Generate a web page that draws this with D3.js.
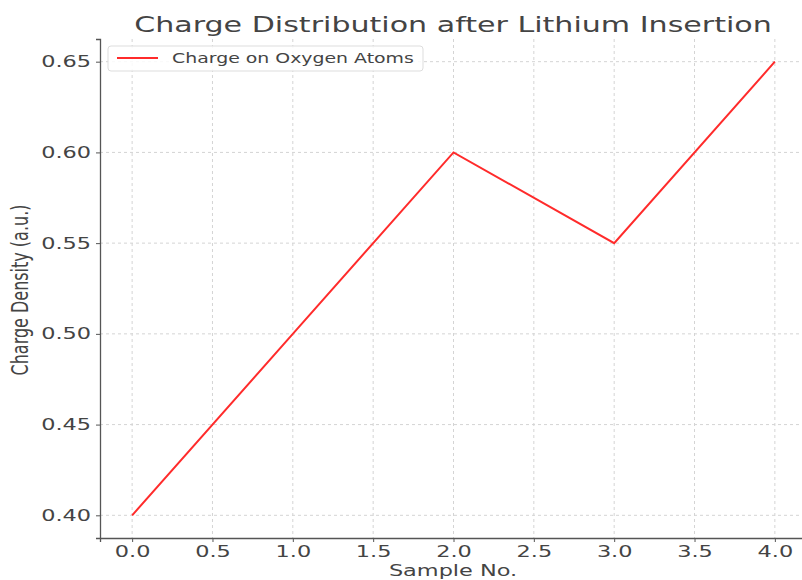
<!DOCTYPE html>
<html>
<head>
<meta charset="utf-8">
<script src="https://cdn.jsdelivr.net/npm/d3@7"></script>
<style>
  body { margin: 0; background: #fff; }
  text { font-family: "DejaVu Sans", sans-serif; fill: #444; }
</style>
</head>
<body>
<svg id="chart" width="802" height="580"></svg>
<script>
// data
var sampleNo = [0, 1, 2, 3, 4];
var chargeOnOxygen = [0.40, 0.50, 0.60, 0.55, 0.65];
var xTicks = [0, 0.5, 1, 1.5, 2, 2.5, 3, 3.5, 4];
var yTicks = [0.40, 0.45, 0.50, 0.55, 0.60, 0.65];
var seriesName = 'Charge on Oxygen Atoms';

var sx = 1.4;   // the picture is stretched sideways

var svg = d3.select('#chart');

var x = d3.scaleLinear().domain([-0.2, 4.2]).range([100, 807]);
var y = d3.scaleLinear().domain([0.3875, 0.6625]).range([538, 39]);

// grid
var grid = svg.append('g');
grid.selectAll('.gx').data(xTicks).enter().append('line')
    .attr('x1', function (d) { return x(d); })
    .attr('x2', function (d) { return x(d); })
    .attr('y1', y.range()[1]).attr('y2', y.range()[0])
    .attr('stroke', '#d4d4d4').attr('stroke-width', 1)
    .attr('stroke-dasharray', '3,3');
grid.selectAll('.gy').data(yTicks).enter().append('line')
    .attr('x1', x.range()[0]).attr('x2', x.range()[1])
    .attr('y1', function (d) { return y(d); })
    .attr('y2', function (d) { return y(d); })
    .attr('stroke', '#d4d4d4').attr('stroke-width', 1)
    .attr('stroke-dasharray', '3,3');

// axes
var xAxis = svg.append('g')
    .attr('transform', 'translate(0,' + y.range()[0] + ')')
    .call(d3.axisBottom(x).tickValues(xTicks).tickSize(4).tickPadding(4)
        .tickFormat(d3.format('.1f')));
var yAxis = svg.append('g')
    .attr('transform', 'translate(' + x.range()[0] + ',0)')
    .call(d3.axisLeft(y).tickValues(yTicks).tickSize(4).tickPadding(5)
        .tickFormat(d3.format('.2f')));

[xAxis, yAxis].forEach(function (ax) {
    ax.select('.domain').attr('stroke', '#555').attr('stroke-width', 1.3);
    ax.selectAll('.tick line').attr('stroke', '#555').attr('stroke-width', 1);
    ax.selectAll('.tick text').attr('font-size', 16).attr('fill', '#444')
        .style('font-family', '"DejaVu Sans", sans-serif');
});
// stretch tick labels sideways around their anchor
xAxis.selectAll('.tick text').attr('transform', 'scale(' + sx + ',1)');
yAxis.selectAll('.tick text').each(function () {
    var t = d3.select(this);
    var tx = +t.attr('x');
    t.attr('x', tx / sx).attr('transform', 'scale(' + sx + ',1)');
});

// line
var line = d3.line()
    .x(function (d, i) { return x(sampleNo[i]); })
    .y(function (d) { return y(d); });
svg.append('path')
    .datum(chargeOnOxygen)
    .attr('d', line)
    .attr('fill', 'none')
    .attr('stroke', '#ff2b2b')
    .attr('stroke-width', 2);

// title and labels
svg.append('text')
    .attr('transform', 'translate(453,32) scale(' + sx + ',1)')
    .attr('text-anchor', 'middle')
    .attr('font-size', 21.5)
    .attr('fill', '#444')
    .text('Charge Distribution after Lithium Insertion');

svg.append('text')
    .attr('transform', 'translate(453,576) scale(' + sx + ',1)')
    .attr('text-anchor', 'middle')
    .attr('font-size', 16)
    .text('Sample No.');

svg.append('text')
    .attr('transform', 'translate(28,290) scale(' + sx + ',1) rotate(-90)')
    .attr('text-anchor', 'middle')
    .attr('font-size', 16)
    .text('Charge Density (a.u.)');

// legend
var legend = svg.append('g');
legend.append('rect')
    .attr('x', 108).attr('y', 46).attr('width', 315).attr('height', 25)
    .attr('rx', 3)
    .attr('fill', '#fff').attr('fill-opacity', 0.85)
    .attr('stroke', '#ddd').attr('stroke-width', 1);
legend.append('line')
    .attr('x1', 117).attr('x2', 158).attr('y1', 58).attr('y2', 58)
    .attr('stroke', '#ff2b2b').attr('stroke-width', 2);
legend.append('text')
    .attr('transform', 'translate(172,63) scale(' + sx + ',1)')
    .attr('font-size', 13.5)
    .text(seriesName);
</script>
</body>
</html>
